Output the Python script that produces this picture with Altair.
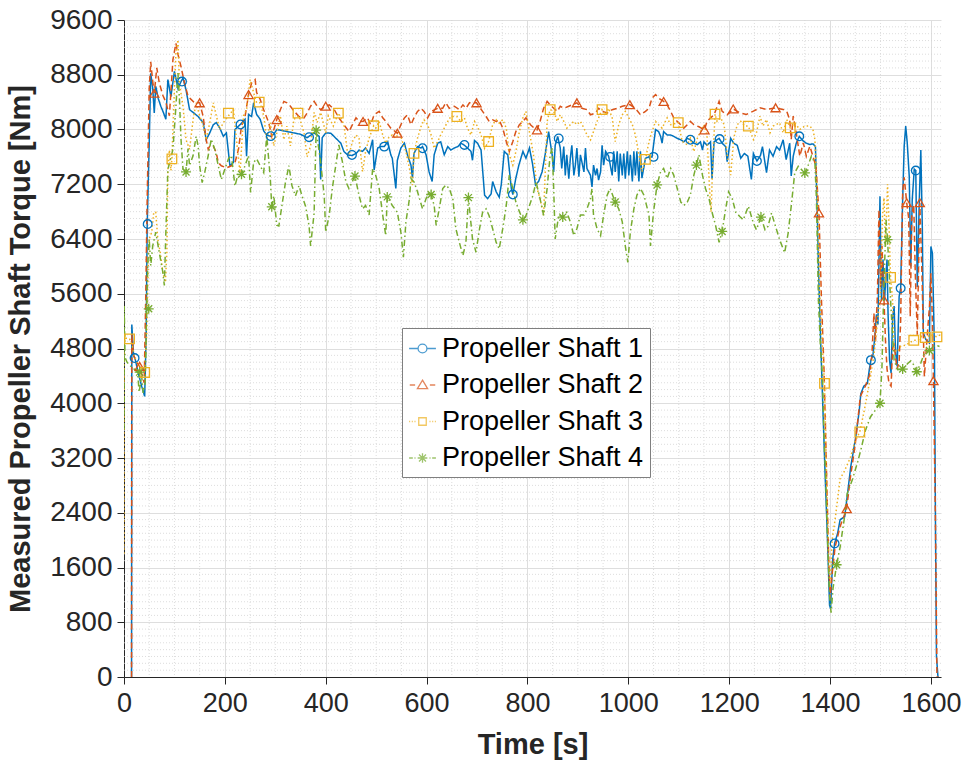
import altair as alt
import pandas as pd

names = ["Propeller Shaft 1", "Propeller Shaft 2", "Propeller Shaft 3", "Propeller Shaft 4"]
colors = ["#0072BD", "#D95319", "#EDB120", "#77AC30"]

s1 = [(15,0),(15.5,5150),(19,4700),(22,4650),(28,4450),(35,4250),(41,4100),(44,5000),(46,6600),(50,7800),(53,8820),(57,8600),(60,8240),(63,8630),(68,8450),(73,8340),(78,8250),(83,8150),(87,8730),(93,8480),(100,8850),(107,8600),(113,8700),(117,8750),(123,8580),(130,8290),(137,8250),(147,8190),(157,8100),(163,7850),(170,7950),(177,8070),(183,8100),(190,8020),(197,7900),(203,7950),(210,7470),(217,7520),(220,8000),(230,8070),(240,8150),(243,7610),(247,8220),(253,8190),(257,8390),(263,8220),(270,8150),(277,7980),(283,7920),(291,7900),(297,7930),(303,8000),(310,7990),(323,7970),(337,7950),(350,7930),(363,7880),(377,7950),(387,7900),(390,7270),(393,7880),(400,7950),(410,7946),(420,7873),(430,7800),(436,7680),(443,7630),(452,7620),(460,7650),(466,7700),(473,7680),(479,7730),(486,7650),(493,7850),(496,7410),(503,7730),(509,7750),(516,7750),(523,7820),(529,7630),(532,7580),(539,7140),(542,7550),(549,7730),(556,7800),(562,7630),(569,7480),(572,7290),(575,7650),(582,7750),(589,7730),(592,7750),(599,7630),(605,7380),(611,7240),(615,7630),(622,7800),(628,7820),(635,7630),(642,7750),(648,7700),(655,7730),(662,7750),(668,7800),(675,7770),(681,7730),(688,7680),(691,7550),(695,7840),(701,7800),(708,7700),(715,7040),(721,6990),(728,7060),(731,7240),(738,7090),(744,7010),(748,7190),(754,7680),(761,7630),(768,7140),(771,7050),(777,7290),(783,7480),(791,7680),(797,7580),(804,7730),(810,7500),(816,7190),(822,7240),(829,7380),(835,7630),(842,7970),(845,7820),(849,7630),(852,7380),(855,7770),(860,7900),(865,7730),(868,7430),(872,7750),(875,7330),(878,7630),(882,7280),(885,7580),(888,7770),(892,7330),(895,7480),(898,7730),(902,7310),(905,7630),(912,7380),(915,7730),(918,7430),(925,7330),(928,7160),(931,7480),(935,7330),(938,7430),(941,7260),(945,7380),(948,7770),(951,7480),(955,7680),(961,7610),(968,7330),(971,7680),(974,7380),(978,7680),(981,7240),(984,7650),(988,7330),(991,7650),(994,7280),(998,7680),(1001,7330),(1004,7630),(1008,7240),(1011,7680),(1014,7330),(1017,7680),(1021,7240),(1024,7680),(1027,7290),(1034,7580),(1041,7600),(1047,7600),(1054,8000),(1060,7970),(1064,7900),(1067,7800),(1070,7970),(1077,7920),(1084,7920),(1090,7900),(1097,7870),(1104,7850),(1110,7820),(1117,7870),(1123,7850),(1130,7800),(1137,7780),(1143,7820),(1147,7700),(1150,7820),(1156,7770),(1163,7820),(1166,7280),(1170,7820),(1180,7870),(1186,7800),(1193,7750),(1196,7530),(1203,7870),(1209,7800),(1216,7770),(1223,7580),(1230,7650),(1237,7610),(1244,7270),(1248,7650),(1255,7540),(1262,7620),(1266,7750),(1274,7370),(1280,7700),(1287,7610),(1294,7750),(1300,7700),(1307,7850),(1313,7560),(1320,7800),(1323,7320),(1327,7610),(1333,7800),(1339,7900),(1347,7830),(1353,7800),(1360,7780),(1366,7790),(1371,7750),(1374,6975),(1377,6000),(1381,5000),(1385,4100),(1390,3000),(1395,2000),(1399,1050),(1401,1000),(1405,1700),(1409,1950),(1415,2100),(1420,2300),(1429,2340),(1435,2700),(1441,3070),(1451,3510),(1458,3900),(1461,4140),(1467,4250),(1474,4290),(1478,4500),(1481,4630),(1485,4700),(1489,4975),(1492,5300),(1495,5150),(1499,7024),(1502,5510),(1505,6100),(1508,5500),(1511,5900),(1513,6100),(1515,5316),(1518,4630),(1521,4440),(1524,5230),(1527,5420),(1530,4740),(1533,4540),(1537,5560),(1540,5680),(1544,6980),(1547,7756),(1550,8050),(1553,7810),(1557,7320),(1560,6000),(1563,6980),(1567,7420),(1570,7400),(1573,5700),(1577,6980),(1580,7700),(1583,6550),(1585,5024),(1590,4930),(1597,4880),(1600,6290),(1603,6190),(1607,4780),(1609,2290),(1611,300),(1614,0)]

s2 = [(15,0),(15.5,5000),(19,4700),(25,4600),(31,4540),(40,4300),(43,5500),(46,7000),(50,8600),(53,8990),(57,8700),(60,8530),(65,8900),(70,8680),(77,8500),(83,8400),(90,8200),(97,9020),(103,9260),(107,9100),(113,8920),(120,8680),(127,8485),(133,8440),(140,8390),(150,8390),(157,8190),(163,7850),(167,7710),(170,7760),(177,7760),(183,7660),(187,7515),(193,7470),(203,7440),(213,7470),(220,7515),(227,7710),(233,8050),(240,8190),(247,8510),(253,8680),(260,8730),(263,8540),(270,8440),(277,8290),(287,8100),(293,7900),(303,8145),(310,8290),(317,8410),(323,8390),(330,8340),(337,8270),(347,8190),(357,8170),(363,8240),(370,8340),(377,8410),(383,8340),(390,8290),(400,8340),(407,8360),(417,8290),(426,8170),(436,8070),(446,7970),(453,8070),(460,8170),(466,8120),(474,8118),(483,8170),(489,8070),(496,8215),(506,8265),(513,8170),(519,8120),(529,8020),(542,7946),(549,8070),(556,8170),(562,8215),(569,8070),(575,8170),(582,8265),(589,8310),(595,8265),(602,8170),(609,8265),(622,8310),(632,8310),(638,8390),(645,8310),(655,8340),(665,8290),(672,8360),(678,8310),(685,8390),(699,8390),(711,8265),(718,8190),(724,8118),(731,8140),(738,8118),(744,8140),(751,8020),(758,7824),(764,7677),(771,7824),(777,7970),(784,8070),(791,8118),(797,8170),(806,8070),(812,8030),(819,7995),(825,8118),(832,8310),(839,8410),(845,8360),(852,8310),(859,8265),(865,8340),(872,8310),(882,8340),(898,8390),(908,8310),(918,8290),(925,8215),(935,8240),(941,8310),(948,8265),(958,8240),(968,8290),(978,8310),(988,8340),(1003,8363),(1014,8310),(1024,8215),(1034,8265),(1041,8310),(1047,8460),(1054,8510),(1060,8460),(1070,8410),(1077,8360),(1084,8265),(1090,8170),(1097,8118),(1104,8070),(1110,8020),(1117,8070),(1123,8118),(1130,8070),(1140,8040),(1151,7995),(1156,8118),(1163,8170),(1170,8215),(1180,8410),(1186,8265),(1196,8215),(1208,8300),(1221,8244),(1234,8220),(1248,8268),(1261,8317),(1274,8293),(1292,8317),(1307,8293),(1314,8268),(1320,8146),(1323,7854),(1327,8195),(1333,7951),(1340,7610),(1347,7805),(1353,7610),(1360,7756),(1366,7610),(1372,7463),(1378,6780),(1383,5500),(1388,4500),(1393,3000),(1397,1800),(1400,1150),(1404,1500),(1410,1900),(1420,2200),(1433,2460),(1440,2900),(1450,3400),(1460,4100),(1470,4250),(1478,4400),(1483,4700),(1487,5316),(1490,4900),(1494,5600),(1497,6830),(1500,5700),(1503,6300),(1507,5510),(1510,4900),(1513,4500),(1517,4290),(1521,4250),(1524,4800),(1527,4850),(1533,4500),(1537,4600),(1540,5220),(1544,7100),(1547,7300),(1552,6930),(1556,6700),(1559,5270),(1562,6750),(1566,6900),(1569,5900),(1573,5000),(1578,6930),(1582,5950),(1587,4390),(1593,5020),(1597,5400),(1600,5900),(1603,5200),(1605,4330),(1609,2290),(1612,0),(1615,0)]

s3 = [(0,1800),(0.5,5040),(3,4950),(7,4950),(11,4940),(16,4850),(20,4700),(25,4600),(30,4550),(36,4500),(41,4450),(45,5000),(48,6000),(50,6400),(55,6500),(59,6790),(63,6790),(67,6400),(72,6200),(77,5910),(82,5770),(85,6200),(87,7400),(90,7700),(93,7400),(95,7570),(97,8000),(100,8600),(103,9115),(107,9310),(110,8670),(117,8340),(123,7850),(130,7710),(137,8145),(143,8390),(150,8200),(157,8050),(163,7850),(170,8100),(177,8390),(183,8200),(190,8000),(197,8100),(207,8200),(217,8290),(223,7850),(230,7370),(237,8200),(243,8290),(250,8730),(257,8540),(263,8390),(270,8390),(277,8200),(283,7850),(290,8100),(297,7760),(303,7950),(310,8200),(317,7850),(323,8050),(330,7760),(337,8150),(347,8200),(357,7950),(363,7600),(370,7760),(377,8250),(383,8100),(390,8250),(400,7950),(405,8200),(415,8050),(425,8240),(430,8170),(436,8070),(443,7677),(446,7628),(453,7824),(460,7920),(466,7873),(473,7383),(479,7677),(486,7873),(495,8054),(499,8020),(506,8118),(513,7920),(519,7800),(526,7897),(532,7920),(539,7873),(546,7970),(552,7824),(559,7677),(566,7432),(572,7187),(575,7652),(582,7873),(589,8044),(595,8142),(602,8070),(609,7920),(615,7726),(622,7824),(628,7920),(635,8020),(642,8118),(648,8190),(660,8190),(668,8118),(675,8170),(681,8020),(688,7920),(695,8118),(701,8044),(708,7920),(715,7726),(723,7824),(731,8070),(738,8142),(744,8093),(751,8142),(758,8020),(764,7628),(771,7480),(777,7677),(784,7970),(791,8170),(797,8265),(806,7873),(812,7628),(819,7138),(825,6990),(832,6746),(835,7334),(839,8118),(845,8290),(852,8265),(859,8118),(865,8215),(872,8118),(878,8020),(885,8070),(892,8118),(898,8070),(905,8118),(912,8020),(918,7920),(925,7848),(931,7970),(938,8118),(948,8290),(955,8215),(961,8310),(968,8170),(974,7824),(981,8070),(988,8215),(994,8265),(1001,8170),(1008,8070),(1014,7920),(1021,7628),(1027,7383),(1034,7564),(1041,7824),(1047,7970),(1054,8118),(1060,8070),(1067,8020),(1077,8170),(1084,8070),(1099,8100),(1107,7824),(1117,7775),(1123,7873),(1130,7677),(1137,7873),(1143,7970),(1150,8070),(1156,7920),(1161,7138),(1164,6795),(1168,7628),(1172,8225),(1176,8118),(1183,8170),(1190,8070),(1196,7628),(1203,7334),(1209,7873),(1216,8070),(1223,8118),(1231,8050),(1238,8050),(1248,7854),(1254,7951),(1261,8195),(1267,8050),(1274,8146),(1281,7951),(1287,8050),(1300,8098),(1307,7951),(1314,8146),(1321,8024),(1330,8098),(1340,8000),(1350,8050),(1360,8050),(1366,8000),(1370,7854),(1375,7000),(1380,5500),(1385,4800),(1389,4290),(1393,3000),(1397,1800),(1400,1300),(1404,2000),(1410,2300),(1415,2600),(1420,2900),(1428,3000),(1440,3200),(1450,3450),(1459,3580),(1468,3900),(1478,4300),(1487,4700),(1494,5200),(1500,5600),(1504,6730),(1507,7000),(1510,6300),(1514,7200),(1517,6580),(1520,5840),(1524,5500),(1527,4780),(1533,4750),(1540,4830),(1550,4850),(1566,4920),(1575,4920),(1582,4980),(1589,4960),(1600,5000),(1612,4970),(1618,5000)]

s4 = [(0,3620),(0.5,5420),(2,4670),(6,4600),(12,4550),(20,4500),(27,4450),(30,4160),(35,4400),(38,4150),(42,4300),(45,5380),(47,6010),(50,6400),(53,6010),(57,6300),(63,6500),(70,6200),(77,5915),(80,5720),(83,6500),(87,7420),(90,7500),(97,7710),(103,8340),(107,8825),(110,8440),(113,7860),(117,7420),(123,7380),(127,7720),(130,7470),(137,7620),(143,7900),(147,7760),(150,7470),(155,7225),(160,7370),(167,7620),(173,7860),(180,7710),(187,7470),(193,7270),(200,7420),(207,7570),(213,7620),(220,7175),(227,7370),(233,7345),(240,7470),(247,7620),(251,7080),(257,7520),(263,7570),(270,7470),(277,7370),(283,7900),(290,7300),(293,6870),(297,7030),(303,6600),(307,6590),(313,6880),(320,7220),(327,7470),(333,7180),(340,7030),(347,7180),(353,7030),(360,6880),(367,6590),(370,6300),(377,6780),(381,7990),(390,7520),(397,7030),(400,6500),(407,6750),(413,7138),(420,7480),(426,7775),(433,7530),(440,7236),(446,7138),(458,7320),(466,7040),(473,6840),(479,6890),(486,6750),(493,7430),(499,7334),(506,7138),(513,6750),(519,6450),(522,7015),(532,6890),(542,6790),(549,6500),(554,6133),(559,6650),(566,6990),(569,7285),(575,7236),(582,7089),(592,6840),(599,6990),(605,7089),(609,7050),(615,6890),(619,6600),(625,6840),(632,7138),(638,7187),(645,7138),(652,6990),(658,6550),(665,6350),(672,6158),(678,6350),(683,7005),(691,6400),(698,6207),(705,6550),(711,6790),(718,6840),(724,6740),(731,6550),(738,6350),(744,6256),(751,6550),(758,6890),(764,7334),(771,7138),(777,6940),(784,6800),(791,6680),(797,6740),(804,6890),(811,7040),(817,7236),(825,6990),(832,6746),(839,7138),(845,7630),(849,7726),(852,7138),(855,6400),(862,6750),(870,6720),(878,6790),(885,6650),(892,6450),(898,6550),(905,6750),(912,6750),(918,6840),(925,6990),(928,7138),(931,6750),(938,6550),(945,6450),(951,6750),(958,7040),(964,7138),(974,6940),(981,6840),(988,6650),(994,6300),(999,6060),(1004,6500),(1011,6840),(1017,7040),(1024,7138),(1031,7040),(1041,6750),(1044,6300),(1050,6800),(1057,7190),(1064,7383),(1070,7432),(1077,7285),(1084,7432),(1090,7334),(1097,7138),(1104,6940),(1110,6890),(1117,6940),(1123,7040),(1130,7334),(1135,7480),(1140,7630),(1147,7334),(1153,7138),(1160,6990),(1166,6790),(1173,6600),(1180,6350),(1186,6510),(1193,6840),(1199,7089),(1206,6990),(1213,6790),(1221,6730),(1228,6680),(1238,6880),(1248,6630),(1254,6536),(1263,6720),(1271,6536),(1277,6585),(1284,6780),(1290,6630),(1300,6390),(1310,6200),(1317,6490),(1323,6880),(1330,7366),(1337,7463),(1350,7365),(1356,7463),(1363,7610),(1370,7512),(1373,6975),(1377,5500),(1381,4800),(1385,4400),(1388,3500),(1391,3000),(1395,2000),(1399,1200),(1402,940),(1406,1300),(1413,1640),(1420,1900),(1428,2300),(1434,2680),(1445,2900),(1455,3150),(1461,3315),(1470,3600),(1480,3800),(1490,3900),(1499,4000),(1503,4540),(1506,5520),(1511,6680),(1514,6390),(1517,5950),(1521,5370),(1527,4630),(1534,4490),(1544,4500),(1554,4580),(1560,4620),(1566,4560),(1572,4460),(1580,4590),(1587,4730),(1597,4770),(1604,4830),(1610,4850),(1617,4830)]

m1 = [(21,4660),(47,6618),(115,8700),(231,8073),(291,7903),(367,7888),(452,7628),(516,7750),(592,7726),(675,7775),(771,7050),(862,7870),(964,7600),(1050,7600),(1123,7850),(1181,7860),(1255,7540),(1339,7900),(1409,1950),(1481,4630),(1540,5680),(1570,7400)]
m2 = [(31,4540),(60,8530),(150,8390),(247,8510),(303,8145),(400,8340),(474,8118),(542,7946),(622,8310),(699,8390),(819,7995),(898,8390),(1003,8363),(1070,8410),(1151,7995),(1208,8300),(1292,8317),(1378,6780),(1433,2460),(1507,5510),(1552,6930),(1578,6930),(1605,4330)]
m3 = [(11,4940),(41,4450),(95,7570),(207,8240),(268,8400),(345,8240),(425,8240),(495,8054),(575,7652),(660,8190),(723,7824),(845,8290),(948,8290),(1034,7564),(1099,8100),(1172,8225),(1238,8050),(1321,8024),(1389,4290),(1459,3580),(1520,5840),(1566,4920),(1589,4960),(1612,4970)]
m4 = [(31,4455),(49,5380),(123,7380),(233,7345),(293,6870),(381,7990),(458,7320),(522,7015),(609,7050),(683,7005),(791,6680),(870,6720),(974,6940),(1057,7190),(1135,7480),(1186,6510),(1263,6720),(1350,7365),(1413,1640),(1499,4000),(1514,6390),(1544,4500),(1572,4460),(1597,4770)]

x_ticks = list(range(0, 1601, 200))
y_ticks = list(range(0, 9601, 800))
x_minor = [v for v in range(50, 1601, 50) if v % 200 != 0]
y_minor = [v for v in range(100, 9600, 100) if v % 800 != 0]

line_rows = []
for n, pts in zip(names, [s1, s2, s3, s4]):
    for i, (t, v) in enumerate(pts):
        line_rows.append({"series": n, "t": t, "v": v, "i": i})
lines_df = pd.DataFrame(line_rows)

mark_rows = []
for n, pts in zip(names, [m1, m2, m3, m4]):
    for t, v in pts:
        mark_rows.append({"series": n, "t": t, "v": v})
marks_df = pd.DataFrame(mark_rows)

W, H = 817, 657
FONT = "Liberation Sans"
AX = "#262626"

xscale = alt.Scale(domain=[0, 1620], nice=False, zero=False)
yscale = alt.Scale(domain=[0, 9600], nice=False)
cscale = alt.Scale(domain=names, range=colors)

x_axis = alt.Axis(
    values=x_ticks, format="d", title="Time [s]", grid=True, gridColor="#dedede",
    tickSize=7, tickColor=AX, domainColor=AX, labelColor=AX,
    labelFont=FONT, labelFontSize=27, labelPadding=6, labelFlush=False,
    titleFont=FONT, titleFontSize=29, titleFontWeight="bold", titleColor=AX, titlePadding=14)
y_axis = alt.Axis(
    values=y_ticks, format="d", title="Measured Propeller Shaft Torque [Nm]", grid=True, gridColor="#dedede",
    tickSize=7, tickColor=AX, domainColor=AX, labelColor=AX,
    labelFont=FONT, labelFontSize=28, labelPadding=5, labelFlush=False,
    titleFont=FONT, titleFontSize=29, titleFontWeight="bold", titleColor=AX, titlePadding=14)

asterisk = "M0,-1L0,1M-1,0L1,0M-0.7,-0.7L0.7,0.7M-0.7,0.7L0.7,-0.7"

leg_paths = [
    "M-1,0L-0.33,0M0.33,0L1,0M-0.33,0A0.33,0.33,0,1,1,0.33,0A0.33,0.33,0,1,1,-0.33,0",
    "M-0.95,0L-0.55,0M0.55,0L0.95,0M0,-0.36L0.38,0.27L-0.38,0.27Z",
    "M-1,0L-0.92,0M-0.8,0L-0.72,0M-0.6,0L-0.52,0M0.52,0L0.6,0M0.72,0L0.8,0M0.92,0L1,0M-0.28,-0.28L0.28,-0.28L0.28,0.28L-0.28,0.28Z",
    "M-1,0L-0.72,0M-0.6,0L-0.52,0M0.52,0L0.6,0M0.72,0L1,0M0,-0.36L0,0.36M-0.36,0L0.36,0M-0.26,-0.26L0.26,0.26M-0.26,0.26L0.26,-0.26",
]

gx = alt.Chart(pd.DataFrame({"t": x_minor})).mark_rule(
    color="#d4d4d4", strokeDash=[1, 2], strokeWidth=0.8
).encode(x=alt.X("t:Q", scale=xscale, axis=x_axis))

gy = alt.Chart(pd.DataFrame({"v": y_minor})).mark_rule(
    color="#d4d4d4", strokeDash=[1, 2], strokeWidth=0.8
).encode(y=alt.Y("v:Q", scale=yscale, axis=y_axis))

lines = alt.Chart(lines_df).mark_line(strokeWidth=1.5, clip=True).encode(
    x=alt.X("t:Q", scale=xscale, axis=x_axis),
    y=alt.Y("v:Q", scale=yscale, axis=y_axis),
    color=alt.Color("series:N", scale=cscale, legend=None),
    strokeDash=alt.StrokeDash("series:N", scale=alt.Scale(
        domain=names, range=[[1, 0], [6, 3.5], [1.5, 2.5], [6, 3, 1.5, 3]]), legend=None),
    order=alt.Order("i:Q"),
)

markers = alt.Chart(marks_df).mark_point(filled=False, strokeWidth=1.3, opacity=1).encode(
    x=alt.X("t:Q", scale=xscale, axis=x_axis),
    y=alt.Y("v:Q", scale=yscale, axis=y_axis),
    color=alt.Color("series:N", scale=cscale, legend=None),
    shape=alt.Shape("series:N", scale=alt.Scale(
        domain=names, range=["circle", "triangle-up", "square", asterisk]), legend=None),
    size=alt.Size("series:N", scale=alt.Scale(domain=names, range=[75, 100, 70, 110]), legend=None),
)

leg_props = dict(
    orient="none", legendX=278, legendY=308, title=None,
    fillColor="white", strokeColor="#7f7f7f", padding=6,
    labelFont=FONT, labelFontSize=27, labelColor="black", labelLimit=500,
    labelOffset=5, symbolSize=720, symbolStrokeWidth=1.3, rowPadding=8.5,
    symbolFillColor="transparent",
)

legend_layer = alt.Chart(marks_df).transform_filter("false").mark_point(filled=False).encode(
    x=alt.X("t:Q", scale=xscale, axis=x_axis),
    y=alt.Y("v:Q", scale=yscale, axis=y_axis),
    color=alt.Color("series:N", scale=cscale, legend=alt.Legend(**leg_props)),
    shape=alt.Shape("series:N", scale=alt.Scale(domain=names, range=leg_paths),
                    legend=alt.Legend(**leg_props)),
)

chart = alt.layer(gx, gy, lines, markers, legend_layer).resolve_scale(
    shape="independent", color="independent"
).properties(
    width=W, height=H,
    autosize=alt.AutoSizeParams(type="none"),
    padding={"left": 124, "top": 20, "right": 26, "bottom": 91},
    background="white",
).configure_view(stroke=None)

chart.save("out.html", embed_options={"renderer": "svg", "actions": False})
